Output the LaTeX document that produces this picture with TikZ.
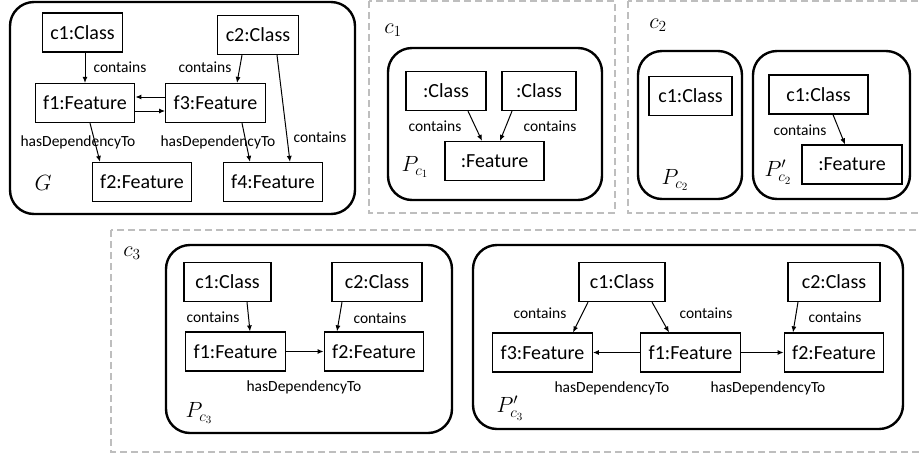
\RequirePackage{fix-cm}
\documentclass[tikz,border=0pt]{standalone}
\usepackage{fontspec}
\setmainfont{Carlito}
\usetikzlibrary{arrows.meta}
\definecolor{framegray}{RGB}{190,190,190}
\begin{document}
\begin{tikzpicture}[
		x=1pt, y=-1pt,
		obj/.style={draw, line width=1.2pt, minimum height=39pt, inner xsep=8pt, font=\fontsize{20}{24}\selectfont},
		lbl/.style={inner sep=0, font=\fontsize{15.5}{18}\selectfont},
		sym/.style={inner sep=0, font=\fontsize{22}{26}\selectfont},
		rel/.style={line width=1pt, -{Latex[length=6pt,width=5pt]}},
		pane/.style={line width=2.4pt, rounded corners=24pt},
		frame/.style={draw=framegray, line width=1.1pt, dash pattern=on 7pt off 4pt},
	]
	\clip (0,0) rectangle (919,456);
	\draw[frame] (369,1) rectangle (615,213);
	\draw[frame] (628,1) rectangle (935,213);
	\draw[frame] (111,230) rectangle (935,452);

	\draw[pane] (10,2) rectangle (355,214);
	\node[obj] (gc1) at (82.5,32.5) {c1:Class};
	\node[obj] (gc2) at (258,35) {c2:Class};
	\node[obj] (gf1) at (85,103) {f1:Feature};
	\node[obj] (gf3) at (215.5,103) {f3:Feature};
	\node[obj] (gf2) at (142,182) {f2:Feature};
	\node[obj] (gf4) at (273,182) {f4:Feature};
	\node[sym] (gname) at (43,183) {$G$};
	\draw[rel] ([xshift=2.5pt]gc1.south) -- (gf1.north);
	\draw[rel] ([xshift=-16pt]gc2.south) -- ([xshift=21.5pt]gf3.north);
	\draw[rel] ([yshift=6pt]gf3.west) -- ([yshift=6pt]gf1.east);
	\draw[rel] ([yshift=-8pt]gf1.east) -- ([yshift=-8pt]gf3.west);
	\draw[rel] ([xshift=5pt]gf1.south) -- ([xshift=-42pt]gf2.north);
	\draw[rel] ([xshift=26.5pt]gf3.south) -- ([xshift=-23pt]gf4.north);
	\draw[rel] ([xshift=19pt]gc2.south) -- ([xshift=17pt]gf4.north);
	\node[lbl] (gl1) at (120,67) {contains};
	\node[lbl] (gl2) at (205,67) {contains};
	\node[lbl] (gl3) at (78,142) {hasDependencyTo};
	\node[lbl] (gl4) at (218,142) {hasDependencyTo};
	\node[lbl] (gl5) at (320,137) {contains};

	\node[sym] (cone) at (393,30) {$c_1$};
	\draw[pane] (388,48) rectangle (602,200);
	\node[obj, minimum width=80pt] (ac1) at (446,91) {:Class};
	\node[obj, minimum width=74pt] (ac2) at (539,91) {:Class};
	\node[obj, minimum width=99pt] (af) at (494.5,161) {:Feature};
	\draw[rel] ([xshift=22pt]ac1.south) -- ([xshift=-12.5pt]af.north);
	\draw[rel] ([xshift=-27pt]ac2.south) -- ([xshift=5.5pt]af.north);
	\node[lbl] (al1) at (435,126) {contains};
	\node[lbl] (al2) at (550,126) {contains};
	\node[sym] (aname) at (415,167) {$P_{c_1}$};

	\node[sym] (ctwo) at (658,25) {$c_2$};
	\draw[pane] (638,51) rectangle (742,199);
	\draw[pane] (753,51) rectangle (910,199);
	\node[obj, minimum width=83pt] (bc1) at (690.5,96) {c1:Class};
	\node[sym] (bname) at (675,180) {$P_{c_2}$};
	\node[obj, minimum width=99pt] (bc1p) at (818.5,94.5) {c1:Class};
	\node[obj, minimum width=100pt] (bf) at (852,164.5) {:Feature};
	\draw[rel] ([xshift=14.5pt]bc1p.south) -- ([xshift=-7pt]bf.north);
	\node[lbl] (bl1) at (800,130) {contains};
	\node[sym] (bnamep) at (778,172) {$P'_{c_2}$};

	\node[sym] (cthree) at (132,253) {$c_3$};
	\draw[pane] (166,245) rectangle (452,433);
	\node[obj, minimum width=87pt] (dc1) at (227.5,282) {c1:Class};
	\node[obj, minimum width=90pt] (dc2) at (377,282) {c2:Class};
	\node[obj] (df1) at (235.5,351.5) {f1:Feature};
	\node[obj] (df2) at (374,351.5) {f2:Feature};
	\draw[rel] ([xshift=19.5pt]dc1.south) -- ([xshift=14.5pt]df1.north);
	\draw[rel] ([xshift=-35pt]dc2.south) -- ([xshift=-37pt]df2.north);
	\draw[rel] (df1.east) -- (df2.west);
	\node[lbl] (dl1) at (213,317) {contains};
	\node[lbl] (dl2) at (380,318) {contains};
	\node[lbl] (dl3) at (304,387) {hasDependencyTo};
	\node[sym] (dname) at (199,413) {$P_{c_3}$};

	\draw[pane] (473,245) rectangle (903,429);
	\node[obj, minimum width=86pt] (ec1) at (622,282) {c1:Class};
	\node[obj, minimum width=92pt] (ec2) at (834,282) {c2:Class};
	\node[obj] (ef3) at (542.5,352.5) {f3:Feature};
	\node[obj] (ef1) at (690.5,352.5) {f1:Feature};
	\node[obj] (ef2) at (834,352.5) {f2:Feature};
	\draw[rel] ([xshift=-34pt]ec1.south) -- ([xshift=30.5pt]ef3.north);
	\draw[rel] ([xshift=30pt]ec1.south) -- ([xshift=-21.5pt]ef1.north);
	\draw[rel] ([xshift=-36pt]ec2.south) -- ([xshift=-41pt]ef2.north);
	\draw[rel] (ef1.west) -- (ef3.east);
	\draw[rel] (ef1.east) -- (ef2.west);
	\node[lbl] (el1) at (540,313) {contains};
	\node[lbl] (el2) at (706,313) {contains};
	\node[lbl] (el3) at (835,317) {contains};
	\node[lbl] (el4) at (612,388) {hasDependencyTo};
	\node[lbl] (el5) at (768,388) {hasDependencyTo};
	\node[sym] (ename) at (510,408) {$P'_{c_3}$};
\end{tikzpicture}
\end{document}
